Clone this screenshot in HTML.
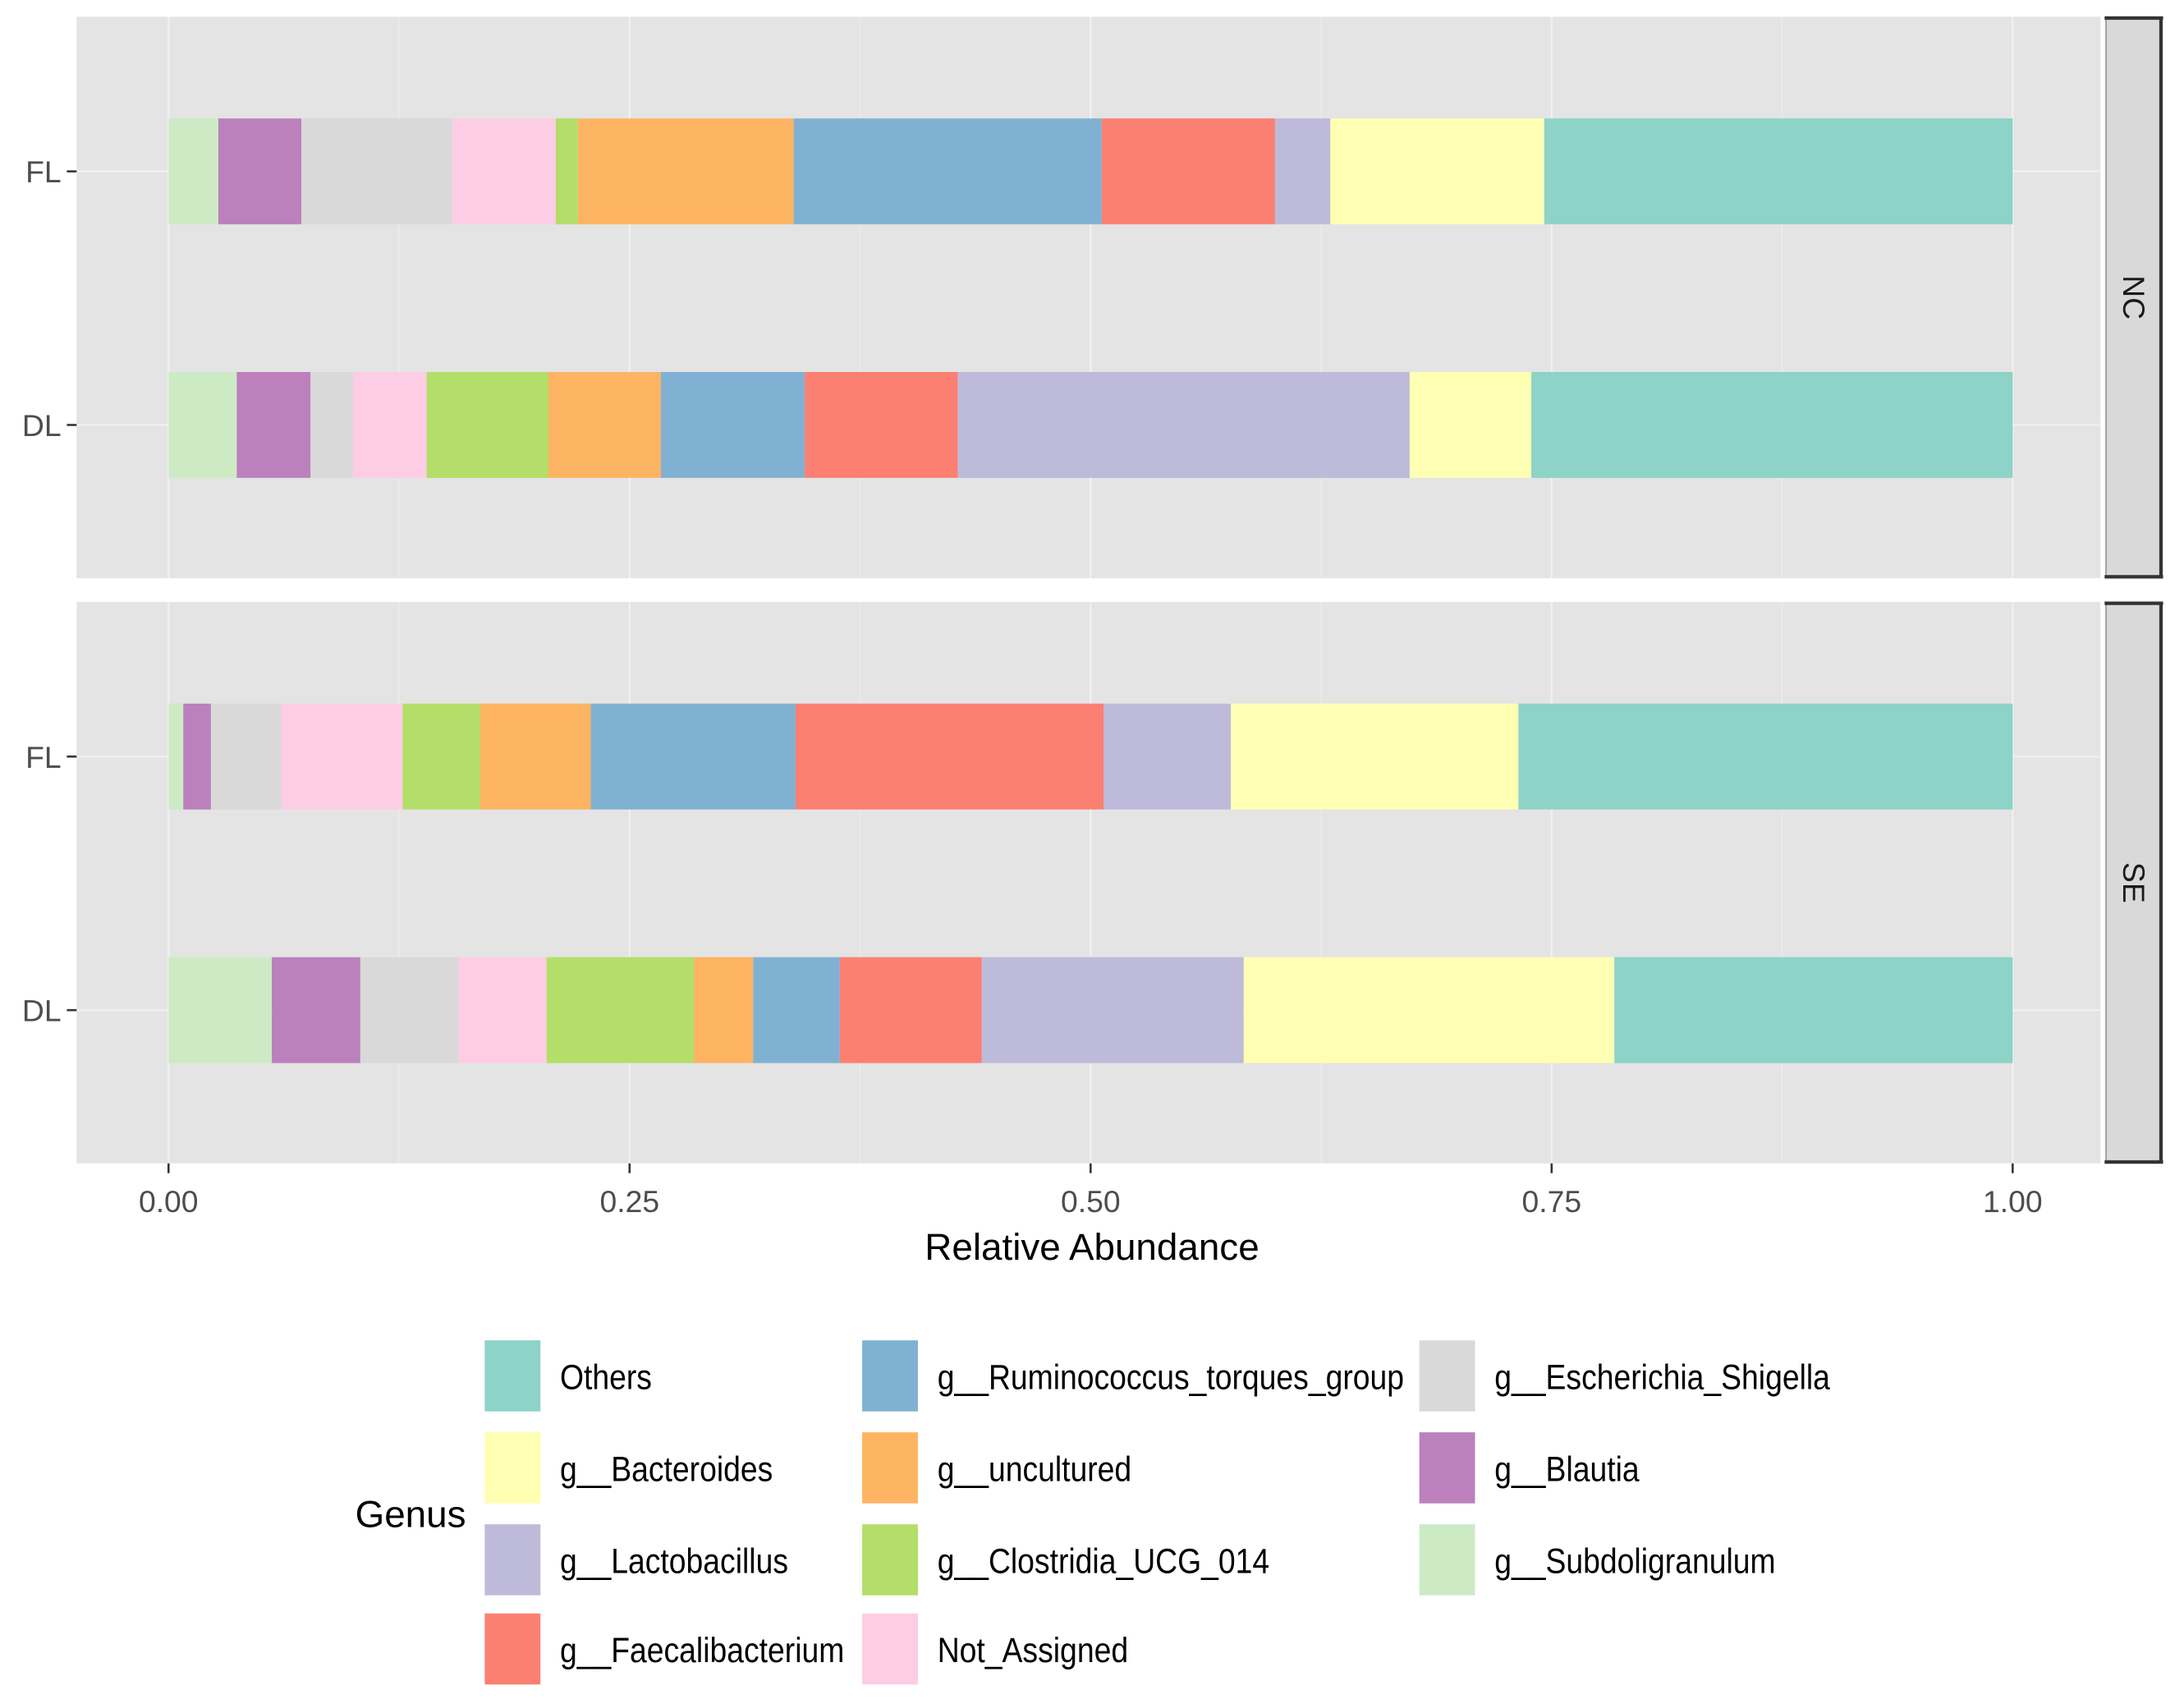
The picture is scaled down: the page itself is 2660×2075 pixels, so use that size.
<!DOCTYPE html>
<html><head><meta charset="utf-8"><style>
html,body{margin:0;padding:0;background:#fff;}
svg{display:block;}
text{font-family:"Liberation Sans",sans-serif;}
</style></head><body>
<svg id="chart" width="2660" height="2075" viewBox="0 0 1568 1223" preserveAspectRatio="none" xmlns="http://www.w3.org/2000/svg">
<g id="panels"></g>
<g id="legend"></g>
</svg>
<script>
const genera = ["g__Subdoligranulum","g__Blautia","g__Escherichia_Shigella","Not_Assigned","g__Clostridia_UCG_014","g__uncultured","g__Ruminococcus_torques_group","g__Faecalibacterium","g__Lactobacillus","g__Bacteroides","Others"];
const colors = ["#ccebc5","#bc80bd","#d9d9d9","#fccde5","#b3de69","#fdb462","#80b1d3","#fb8072","#bebada","#ffffb3","#8dd3c7"];
const facets = ["NC","SE"];
const samples = ["FL","DL"];
const ncFL = [0.027,0.045,0.082,0.056,0.012,0.117,0.167,0.094,0.030,0.116,0.254];
const ncDL = [0.037,0.040,0.023,0.040,0.066,0.061,0.078,0.083,0.245,0.066,0.261];
const seFL = [0.008,0.015,0.038,0.066,0.042,0.060,0.111,0.167,0.069,0.156,0.268];
const seDL = [0.056,0.048,0.053,0.048,0.080,0.032,0.047,0.077,0.142,0.201,0.216];
const seriesByFacet = [[ncFL,ncDL],[seFL,seDL]];
const ticks = [0,0.25,0.5,0.75,1.0];
const tickLabels = ["0.00","0.25","0.50","0.75","1.00"];

const NS="http://www.w3.org/2000/svg";
function mk(tag,attrs,parent){const e=document.createElementNS(NS,tag);for(const k in attrs)e.setAttribute(k,attrs[k]);parent.appendChild(e);return e;}
const X0=121,X1=1445;
function xs(v){return X0+(X1-X0)*v;}
const panelTop=[12,432], panelH=403;
const panelsG=document.getElementById('panels');
facets.forEach((f,fi)=>{
  const top=panelTop[fi];
  const g=mk('g',{},panelsG);
  
  
  const bg=mk('rect',{x:55,y:top,width:1453,height:panelH,fill:'#e4e4e4'},g);
  
  
  for(let i=0;i<ticks.length-1;i++){const m=(ticks[i]+ticks[i+1])/2;mk('line',{x1:xs(m),x2:xs(m),y1:top,y2:top+panelH,stroke:'#ebebeb','stroke-width':1},g);}
  ticks.forEach(t=>{mk('line',{x1:xs(t),x2:xs(t),y1:top,y2:top+panelH,stroke:'#f0f0f0','stroke-width':1.4},g);});
  const barCenters=[top+111,top+293];
  samples.forEach((s,si)=>{
    const cy=barCenters[si];
    mk('line',{x1:55,x2:1508,y1:cy,y2:cy,stroke:'#f0f0f0','stroke-width':1.4},g);
    const vals=seriesByFacet[fi][si];
    const tot=vals.reduce((a,b)=>a+b,0);
    let acc=0;
    vals.forEach((v,vi)=>{
      const r=mk('rect',{x:xs(acc/tot),y:cy-38,width:xs((acc+v)/tot)-xs(acc/tot),height:76,fill:colors[vi]},g);
      
      
      acc+=v;
    });
    const lab=mk('text',{x:44,y:cy+8,'text-anchor':'end','font-size':22,fill:'#4d4d4d'},g);
    lab.textContent=s;
    
    
    mk('line',{x1:48,x2:55,y1:cy,y2:cy,stroke:'#333','stroke-width':1.5},g);
  });
  const st=mk('rect',{x:1512,y:top+1,width:40,height:panelH-2,fill:'#d9d9d9',stroke:'#999','stroke-width':1},g);
  
  
  mk('line',{x1:1511,x2:1553,y1:top+1,y2:top+1,stroke:'#333','stroke-width':2.5},g);
  mk('line',{x1:1551.5,x2:1551.5,y1:top,y2:top+panelH,stroke:'#333','stroke-width':2.5},g);
  mk('line',{x1:1511,x2:1553,y1:top+panelH-1,y2:top+panelH-1,stroke:'#333','stroke-width':2.5},g);
  const cx=1532, cy=top+panelH/2;
  const stt=mk('text',{x:cx,y:cy,'text-anchor':'middle','dominant-baseline':'central','font-size':22,fill:'#1a1a1a',transform:`rotate(90 ${cx} ${cy})`},g);
  stt.textContent=f;
  
  
});
const ax=mk('g',{},panelsG);


ticks.forEach((t,i)=>{
  mk('line',{x1:xs(t),x2:xs(t),y1:835,y2:842,stroke:'#333','stroke-width':1.5},ax);
  const tl=mk('text',{x:xs(t),y:870,'text-anchor':'middle','font-size':22,fill:'#4d4d4d'},ax);
  tl.textContent=tickLabels[i];
  
  
});
const xt=mk('text',{x:784,y:904,'text-anchor':'middle','font-size':27,fill:'#000'},ax);
xt.textContent='Relative Abundance';


const lg=document.getElementById('legend');


const lt=mk('text',{x:255,y:1096,'font-size':27,fill:'#000'},lg);
lt.textContent='Genus';


const legendOrder=[10,9,8,7,6,5,4,3,2,1,0];
const charW=0.46*25*0.9;
const colX=[348,619,1019], rowY=[962,1028,1094,1158];
legendOrder.forEach((gi,k)=>{
  const col=Math.floor(k/4), row=k%4;
  const e=mk('g',{},lg);
  
  
  mk('rect',{x:colX[col],y:rowY[row],width:40,height:51,fill:colors[gi]},e);
  const t=mk('text',{x:colX[col]+54,y:rowY[row]+35,'font-size':25,fill:'#000'},e);
  t.textContent=genera[gi];
  const bb=t.getComputedTextLength();
  t.setAttribute('textLength',(bb*0.88).toFixed(1));
  t.setAttribute('lengthAdjust','spacingAndGlyphs');
});
</script>
</body></html>
